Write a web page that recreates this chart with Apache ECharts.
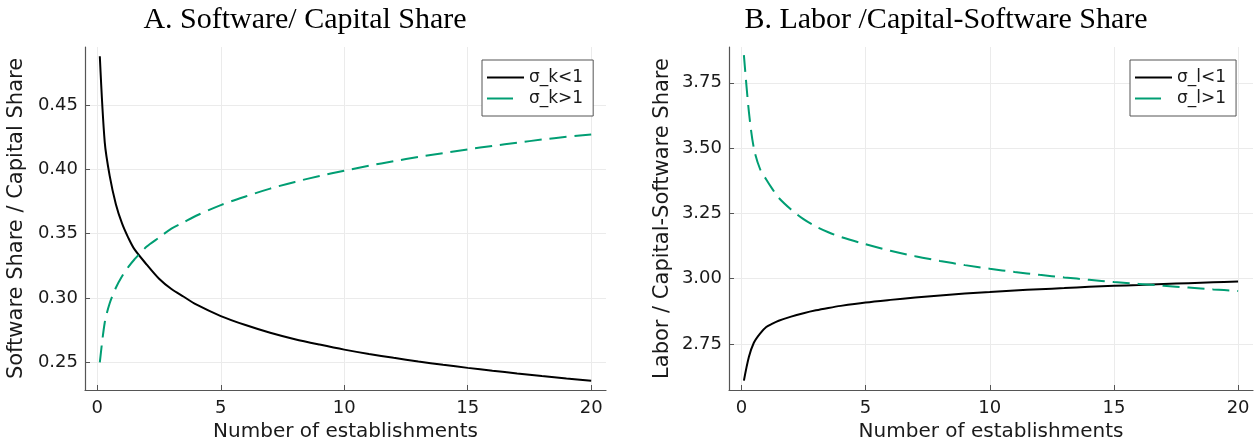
<!DOCTYPE html>
<html>
<head>
<meta charset="utf-8">
<script src="https://cdn.jsdelivr.net/npm/echarts@6/dist/echarts.min.js"></script>
<style>html,body{margin:0;padding:0;background:#fff}#c{width:1260px;height:447px}</style>
</head>
<body>
<div id="c"></div>
<script>
// Number of establishments (sample points)
const establishments = [0.1, 0.3, 0.5, 0.75, 1, 1.25, 1.5, 2, 2.5, 3, 3.5, 4, 5, 6, 7, 8, 9, 10, 11, 12, 13, 14, 15, 16, 17, 18, 19, 20];
// Panel A: Software share / capital share
const softwareSigmaKLow  = [0.488, 0.421, 0.395, 0.373, 0.358, 0.347, 0.338, 0.326, 0.315, 0.307, 0.301, 0.295, 0.286, 0.279, 0.273, 0.268, 0.2638, 0.2599, 0.2565, 0.2535, 0.2507, 0.2481, 0.2457, 0.2435, 0.2414, 0.2394, 0.2375, 0.2357];
const softwareSigmaKHigh = [0.250, 0.281, 0.296, 0.308, 0.317, 0.324, 0.330, 0.340, 0.347, 0.354, 0.359, 0.364, 0.3723, 0.379, 0.3851, 0.3903, 0.3949, 0.399, 0.4029, 0.4064, 0.4097, 0.4127, 0.4156, 0.4183, 0.4208, 0.4232, 0.4254, 0.4272];
// Panel B: Labor / capital-software share
const laborSigmaLLow  = [2.610, 2.700, 2.755, 2.790, 2.815, 2.828, 2.839, 2.855, 2.868, 2.879, 2.888, 2.896, 2.909, 2.919, 2.928, 2.936, 2.943, 2.949, 2.955, 2.960, 2.964, 2.969, 2.973, 2.976, 2.980, 2.983, 2.986, 2.989];
const laborSigmaLHigh = [3.856, 3.640, 3.500, 3.420, 3.380, 3.343, 3.310, 3.265, 3.228, 3.200, 3.178, 3.160, 3.132, 3.107, 3.086, 3.068, 3.052, 3.038, 3.026, 3.015, 3.005, 2.996, 2.987, 2.980, 2.973, 2.966, 2.959, 2.953];

const xTickValues = [0, 5, 10, 15, 20];
const yTickValuesA = [0.25, 0.30, 0.35, 0.40, 0.45];
const yTickValuesB = [2.75, 3.00, 3.25, 3.50, 3.75];

const panelTitles = ['A. Software/ Capital Share', 'B. Labor /Capital-Software Share'];
const yAxisNames = ['Software Share / Capital Share', 'Labor / Capital-Software Share'];
const xAxisName = 'Number of establishments';
const namesA = ['σ_k<1', 'σ_k>1'];
const namesB = ['σ_l<1', 'σ_l>1'];

const BLACK = '#000000';
const GREEN = '#009e73';
const SANS = 'DejaVu Sans';

function pairs(ys) { return establishments.map((x, i) => [x, ys[i]]); }

function xAxisCfg(gi) {
  return {
    type: 'value', gridIndex: gi, min: -0.5, max: 20.6,
    name: xAxisName, nameLocation: 'middle', nameGap: 30,
    nameTextStyle: { fontFamily: SANS, fontSize: 20, color: '#1a1a1a' },
    axisLine: { show: true, onZero: false, lineStyle: { color: '#555', width: 1.2 } },
    axisTick: { show: true, inside: true, length: 5, customValues: xTickValues, lineStyle: { color: '#555', width: 1 } },
    axisLabel: { customValues: xTickValues, margin: 9, fontFamily: SANS, fontSize: 18, color: '#1a1a1a' },
    splitLine: { show: true, lineStyle: { color: '#ebebeb', width: 1 } }
  };
}
function yAxisCfg(gi, min, max, ticks, name, gap) {
  return {
    type: 'value', gridIndex: gi, min: min, max: max,
    name: name, nameLocation: 'middle', nameGap: gap,
    nameTextStyle: { fontFamily: SANS, fontSize: 21, color: '#1a1a1a' },
    axisLine: { show: true, onZero: false, lineStyle: { color: '#555', width: 1.2 } },
    axisTick: { show: true, inside: true, length: 5, customValues: ticks, lineStyle: { color: '#555', width: 1 } },
    axisLabel: { customValues: ticks, margin: 7, fontFamily: SANS, fontSize: 18, color: '#1a1a1a',
      formatter: v => v.toFixed(2) },
    splitLine: { show: true, lineStyle: { color: '#ebebeb', width: 1 } }
  };
}
function lineSeries(name, gi, ys, color, dashed) {
  return {
    type: 'line', name: name, xAxisIndex: gi, yAxisIndex: gi,
    data: pairs(ys), symbol: 'none', showSymbol: false,
    smooth: 0.3,
    lineStyle: { color: color, width: 2, type: dashed ? [17, 8] : 'solid' },
    itemStyle: { color: color },
    animation: false
  };
}
function legendCfg(names, left) {
  return {
    orient: 'vertical', left: left, top: 60,
    data: [{ name: names[0] }, { name: names[1], lineStyle: { type: [26, 40] } }],
    itemWidth: 37, itemHeight: 14, itemGap: 4,
    padding: [9, 10, 9, 4],
    borderColor: '#555', borderWidth: 1, backgroundColor: '#fff',
    itemStyle: { opacity: 0, borderWidth: 0 },
    textStyle: { fontFamily: SANS, fontSize: 17, color: '#1a1a1a' },
    selectedMode: false
  };
}

const chart = echarts.init(document.getElementById('c'), null, { renderer: 'canvas' });
chart.setOption({
  animation: false,
  backgroundColor: '#fff',
  title: [
    { text: panelTitles[0], left: 300, top: 0, textAlign: 'center',
      textStyle: { fontFamily: 'Liberation Serif', fontSize: 30, fontWeight: 'normal', color: '#000' } },
    { text: panelTitles[1], left: 941, top: 0, textAlign: 'center',
      textStyle: { fontFamily: 'Liberation Serif', fontSize: 30, fontWeight: 'normal', color: '#000' } }
  ],
  grid: [
    { left: 85, top: 47, width: 521, height: 343, containLabel: false },
    { left: 729, top: 47, width: 524, height: 343, containLabel: false }
  ],
  xAxis: [xAxisCfg(0), xAxisCfg(1)],
  yAxis: [
    yAxisCfg(0, 0.2285, 0.4952, yTickValuesA, yAxisNames[0], 58),
    yAxisCfg(1, 2.574, 3.887, yTickValuesB, yAxisNames[1], 56)
  ],
  legend: [legendCfg(namesA, 482), legendCfg(namesB, 1130)],
  series: [
    lineSeries(namesA[0], 0, softwareSigmaKLow, BLACK, false),
    lineSeries(namesA[1], 0, softwareSigmaKHigh, GREEN, true),
    lineSeries(namesB[0], 1, laborSigmaLLow, BLACK, false),
    lineSeries(namesB[1], 1, laborSigmaLHigh, GREEN, true)
  ]
});
</script>
</body>
</html>
